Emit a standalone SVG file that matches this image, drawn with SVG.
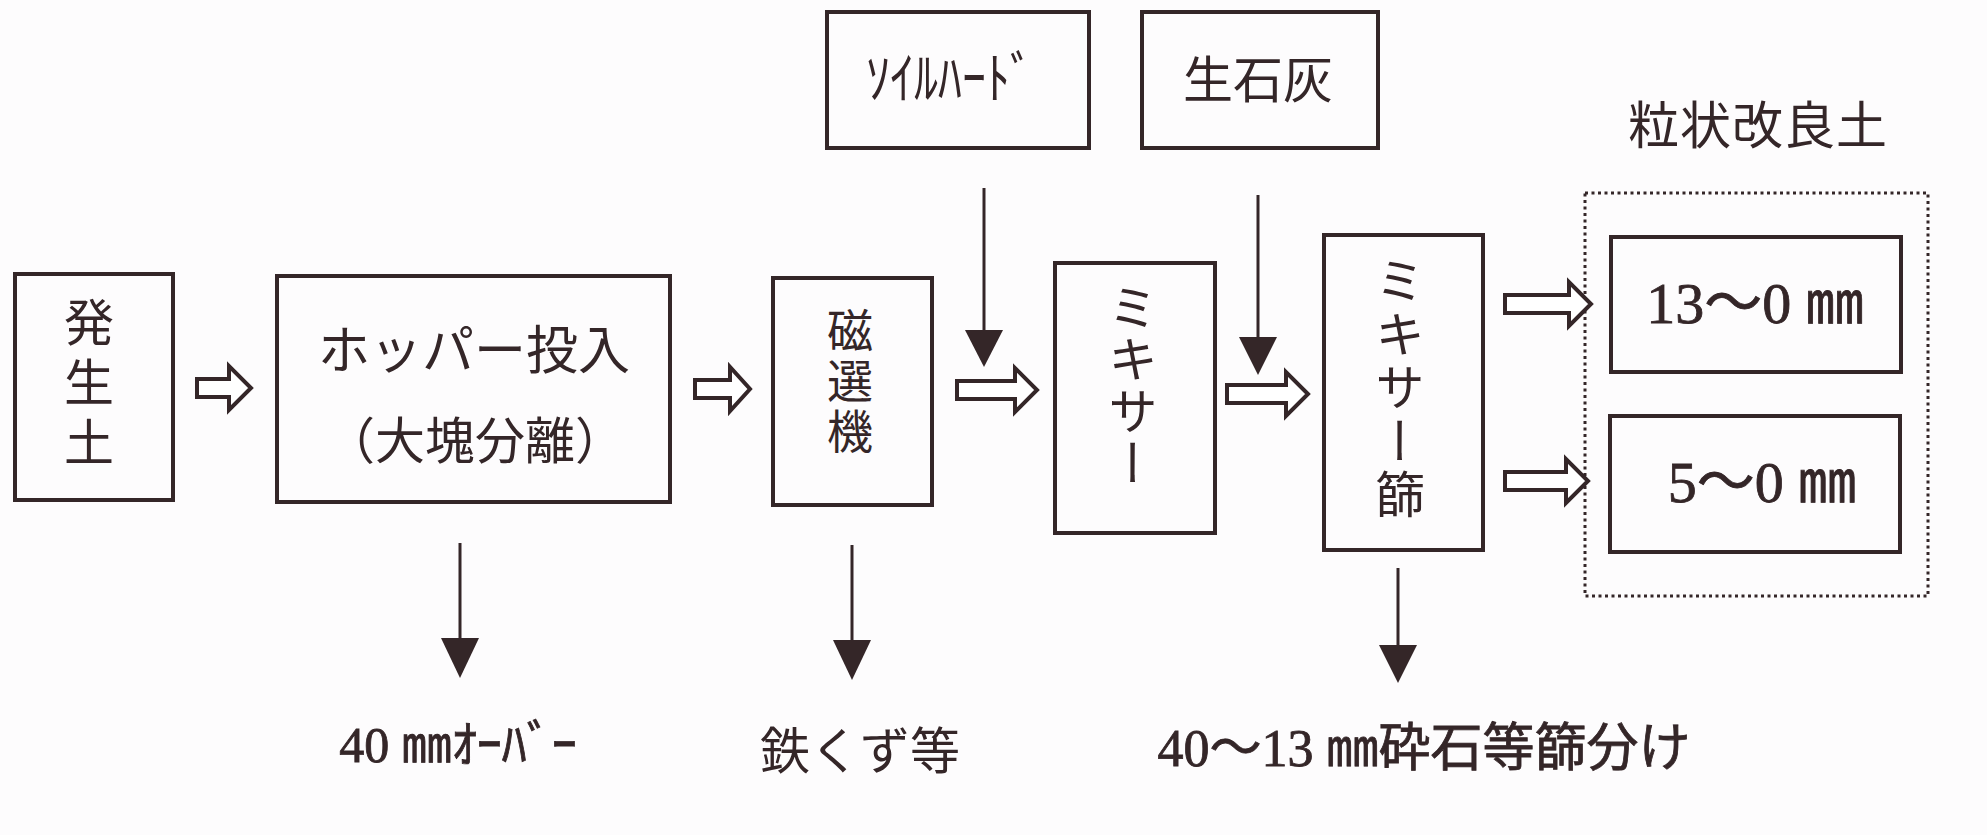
<svg xmlns="http://www.w3.org/2000/svg" width="1987" height="835" viewBox="0 0 1987 835">
<style>
.box{fill:none;stroke:#342628;stroke-width:4}
.dot{fill:none;stroke:#342628;stroke-width:3;stroke-dasharray:3 3.5}
.ha{fill:#ffffff;stroke:#342628;stroke-width:4;stroke-linejoin:miter}
.ln{stroke:#342628;stroke-width:3;fill:none}
.hd{fill:#342628}
.jp{font-family:"Noto Sans CJK JP","Noto Sans CJK SC",sans-serif;fill:#342628}
.mx{font-family:"Liberation Serif","Noto Sans CJK JP",serif;fill:#342628;stroke:#342628;stroke-width:0.8}
.vt{writing-mode:vertical-rl;font-family:"Noto Sans CJK JP","Noto Sans CJK SC",sans-serif;fill:#342628}
</style>
<rect x="0" y="0" width="1987" height="835" fill="#fdfcfd"/>
<g id="hasseido">
<rect class="box" x="15" y="274" width="158" height="226"/>
<text class="vt" x="89" y="297" font-size="50" letter-spacing="10">発生土</text>
</g>
<g id="hopper">
<rect class="box" x="277" y="276" width="393" height="226"/>
<text class="jp" x="474" y="369" font-size="52" text-anchor="middle">ホッパー投入</text>
<text class="jp" x="475" y="459" font-size="50" text-anchor="middle">（大塊分離）</text>
</g>
<g id="jisenki">
<rect class="box" x="773" y="278" width="159" height="227"/>
<text class="vt" x="850" y="307" font-size="46" letter-spacing="4.5">磁選機</text>
</g>
<g id="soilhard">
<rect class="box" x="827" y="12" width="262" height="136"/>
<text class="jp" x="950" y="98" font-size="56" text-anchor="middle" textLength="168" lengthAdjust="spacingAndGlyphs">ｿｲﾙﾊｰﾄﾞ</text>
</g>
<g id="seisekkai">
<rect class="box" x="1142" y="12" width="236" height="136"/>
<text class="jp" x="1258" y="98" font-size="50" text-anchor="middle">生石灰</text>
</g>
<g id="mixer">
<rect class="box" x="1055" y="263" width="160" height="270"/>
<text class="vt" x="1133" y="282" font-size="50" letter-spacing="2">ミキサー</text>
</g>
<g id="mixer-furui">
<rect class="box" x="1324" y="235" width="159" height="315"/>
<text class="vt" x="1400" y="255" font-size="50" letter-spacing="3.5">ミキサー篩</text>
</g>
<g id="ryujo">
<text class="jp" x="1758" y="144" font-size="51" text-anchor="middle" letter-spacing="1">粒状改良土</text>
<rect class="dot" x="1585" y="193" width="343" height="403"/>
</g>
<g id="p13">
<rect class="box" x="1611" y="237" width="290" height="135"/>
<text class="mx" x="1755" y="323" font-size="58" text-anchor="middle">13～0 ㎜</text>
</g>
<g id="p5">
<rect class="box" x="1610" y="416" width="290" height="136"/>
<text class="mx" x="1762" y="502" font-size="58" text-anchor="middle">5～0 ㎜</text>
</g>
<g id="out40">
<text class="mx" x="458" y="762" font-size="50" text-anchor="middle">40 ㎜ｵｰﾊﾞｰ</text>
</g>
<g id="tetsu">
<text class="jp" x="860" y="769" font-size="50" text-anchor="middle">鉄くず等</text>
</g>
<g id="out4013">
<text class="mx" x="1424" y="766" font-size="52" text-anchor="middle">40～13 ㎜砕石等篩分け</text>
</g>
<g id="connectors">
<path class="ha" d="M197,379 H229 V366 L251,388 L229,410 V397 H197 Z"/>
<path class="ha" d="M695,380 H730 V367 L750,389 L730,411 V398 H695 Z"/>
<path class="ha" d="M957,381 H1015 V368 L1037,390 L1015,412 V399 H957 Z"/>
<path class="ha" d="M1227,385 H1286 V372 L1308,394 L1286,416 V403 H1227 Z"/>
<path class="ha" d="M1505,295 H1569 V282 L1591,304 L1569,326 V313 H1505 Z"/>
<path class="ha" d="M1505,472 H1566 V459 L1588,481 L1566,503 V490 H1505 Z"/>
<line class="ln" x1="984" y1="188" x2="984" y2="335"/>
<path class="hd" d="M965,330 H1003 L984,367 Z"/>
<line class="ln" x1="1258" y1="195" x2="1258" y2="342"/>
<path class="hd" d="M1239,337 H1277 L1258,375 Z"/>
<line class="ln" x1="460" y1="543" x2="460" y2="643"/>
<path class="hd" d="M441,638 H479 L460,678 Z"/>
<line class="ln" x1="852" y1="545" x2="852" y2="645"/>
<path class="hd" d="M833,640 H871 L852,680 Z"/>
<line class="ln" x1="1398" y1="568" x2="1398" y2="650"/>
<path class="hd" d="M1379,645 H1417 L1398,683 Z"/>
</g>
</svg>
